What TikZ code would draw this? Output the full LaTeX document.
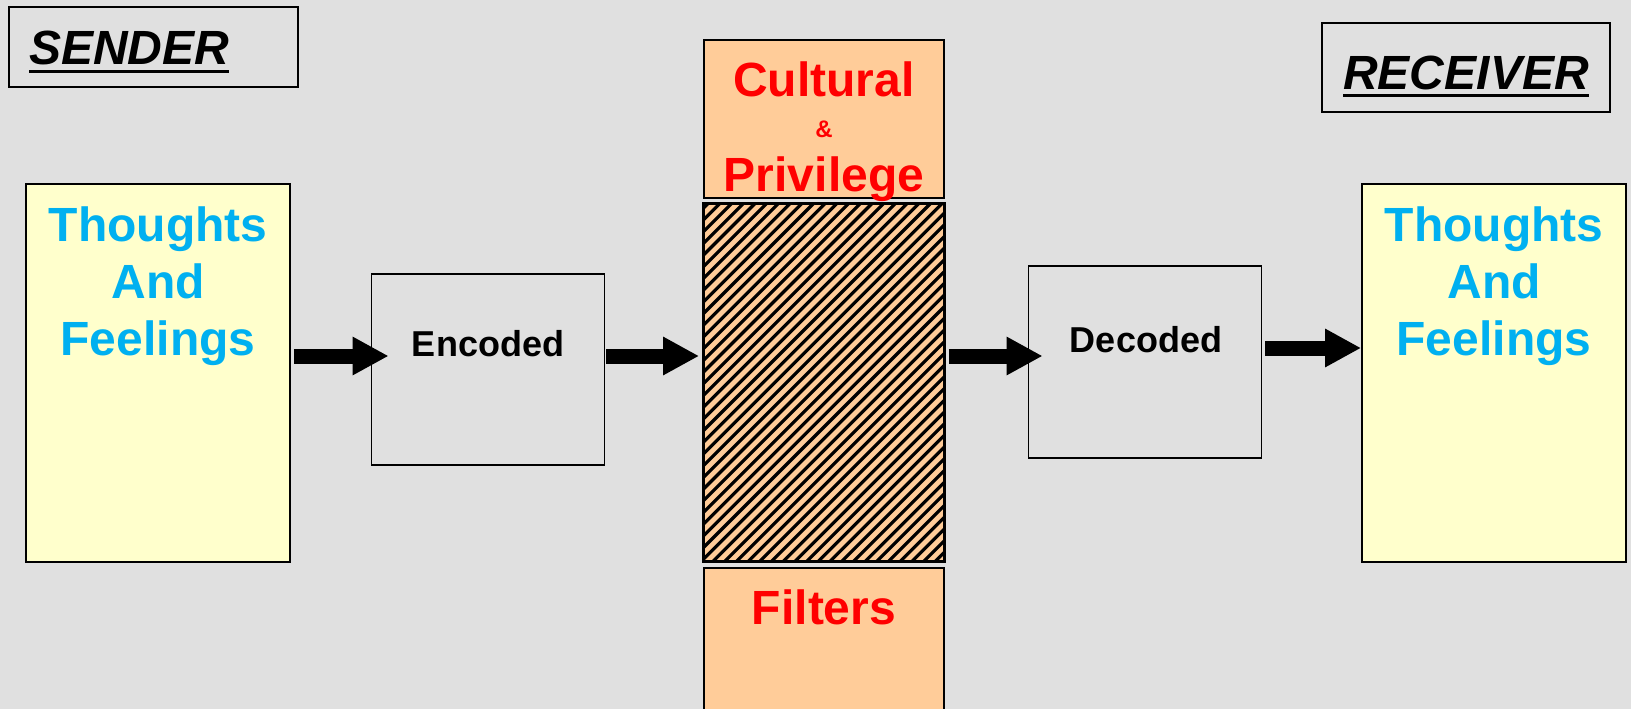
\documentclass[tikz,border=0pt]{standalone}
\usepackage{fontspec}
\setmainfont{Liberation Sans}
\usetikzlibrary{arrows.meta,calc}
\definecolor{slidegray}{RGB}{224,224,224}
\definecolor{paleyellow}{RGB}{255,255,204}
\definecolor{peach}{RGB}{255,204,153}
\definecolor{skyblue}{RGB}{0,176,240}
\newcommand{\thickul}[1]{\setbox0\hbox{#1}\rlap{\rule[-8pt]{\wd0}{3.5pt}}\box0}
\tikzset{
  framebox/.style={draw=black,line width=1.8pt,inner sep=0pt},
  feelbox/.style={framebox,fill=paleyellow,minimum width=264pt,minimum height=378pt},
  codebox/.style={framebox,minimum width=233pt,minimum height=191pt},
  filterbox/.style={framebox,fill=peach,minimum width=240pt},
  feeltext/.style={text=skyblue,font=\fontsize{48}{57}\selectfont\bfseries,align=center,anchor=base,inner sep=0pt},
  codetext/.style={font=\fontsize{36}{43}\selectfont\bfseries,anchor=base,inner sep=0pt},
  filtertext/.style={text=red,font=\fontsize{48}{48}\selectfont\bfseries,anchor=base,inner sep=0pt},
  roletext/.style={font=\fontsize{48}{48}\selectfont\bfseries\itshape,anchor=base,inner sep=0pt},
  bigarrow/.style={line width=15pt,-{Triangle[length=36pt,width=36pt]}}
}
\begin{document}
\begin{tikzpicture}[x=1pt,y=-1pt]
	%background
	\fill[slidegray] (0,0) rectangle (1631,709);
	\useasboundingbox (0,0) rectangle (1631,709);

	%sender and receiver
	\node[framebox,minimum width=289pt,minimum height=80pt] (sendtag) at (153.5,47) {};
	\node[roletext,anchor=base west] (sendname) at (29,65) {\thickul{SENDER}};
	\node[framebox,minimum width=288pt,minimum height=89pt] (recvtag) at (1466,67.5) {};
	\node[roletext] (recvname) at (1466,89) {\thickul{RECEIVER}};

	%thoughts boxes (text anchored on its last line)
	\node[feelbox] (sendbox) at (158,373) {};
	\node[feeltext] (sendtext) at (158,355) {Thoughts\\And\\Feelings};
	\node[feelbox] (recvbox) at (1494,373) {};
	\node[feeltext] (recvtext) at (1494,355) {Thoughts\\And\\Feelings};

	%coding boxes
	\node[codebox] (encbox) at (488,369.5) {};
	\node[codetext] (enctext) at (488,356) {Encoded};
	\node[codebox,minimum height=192pt] (decbox) at (1145,362) {};
	\node[codetext] (dectext) at (1146,352) {Decoded};

	%filter column
	\node[filterbox,minimum height=158pt] (cultbox) at (824,119) {};
	\node[filtertext] (culttext) at (824,96) {Cultural};
	\node[filtertext,font=\fontsize{24}{24}\selectfont\bfseries] (andtext) at (824,137) {\&};
	\node[filtertext] (privtext) at (824,191) {Privilege};
	\node[filterbox,minimum height=357pt] (hatchbox) at (824,382.5) {};
	\begin{scope}
		\clip (hatchbox.south west) rectangle (hatchbox.north east);
		\foreach \k in {0,...,52}
			\draw[line width=3.2pt] ($(hatchbox.south west)+(\k*11.7-365,0)$) -- ++(420,-420);
	\end{scope}
	\draw[line width=1.8pt] (hatchbox.south west) rectangle (hatchbox.north east);
	\node[filterbox,minimum height=162pt] (filtbox) at (824,649) {};
	\node[filtertext] (filttext) at (824,624) {Filters};

	%arrows
	\coordinate (lane) at (0,356);
	\coordinate (lanetwo) at (0,348);
	\draw[bigarrow] ($(sendbox.east |- lane)+(3,0)$) -- ($(encbox.west |- lane)+(18,0)$);
	\draw[bigarrow] ($(encbox.east |- lane)+(1,0)$) -- ($(hatchbox.west |- lane)+(-4,0)$);
	\draw[bigarrow] ($(hatchbox.east |- lane)+(4,0)$) -- ($(decbox.west |- lane)+(15,0)$);
	\draw[bigarrow] ($(decbox.east |- lanetwo)+(3,0)$) -- (recvbox.west |- lanetwo);
\end{tikzpicture}
\end{document}
